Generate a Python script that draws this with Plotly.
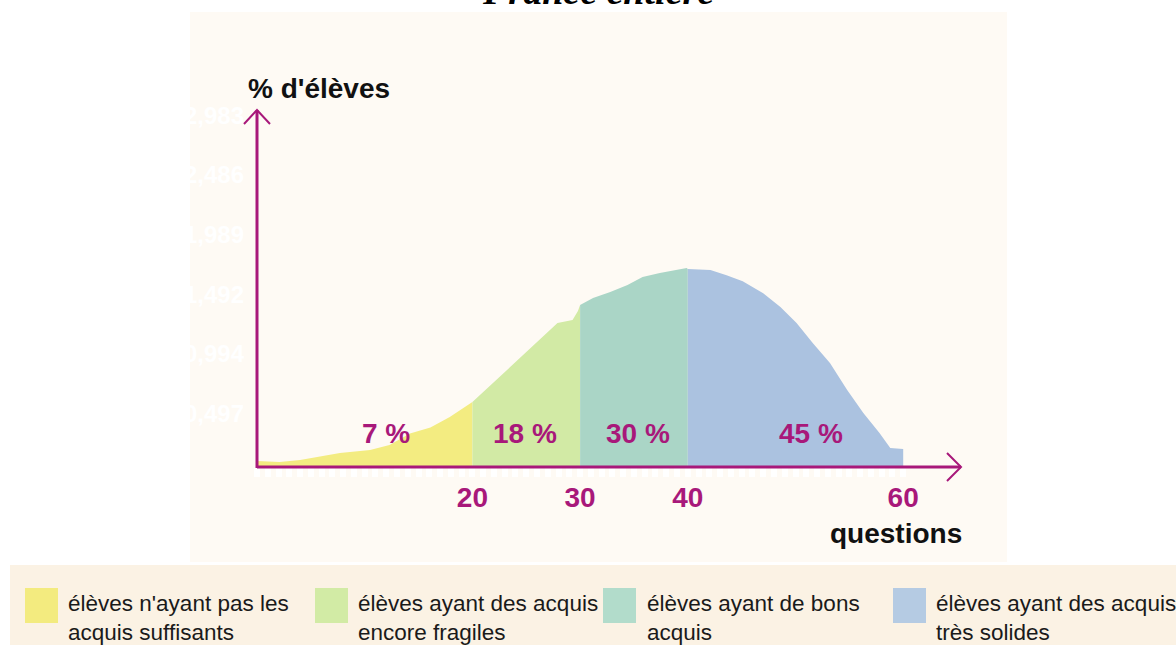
import plotly.graph_objects as go

# ---------------- data ----------------
questions = [0, 2.1, 4.0, 7.7, 10.5, 12.3, 14.2, 16.1, 17.9, 19.8,
             20, 21.9, 23.5, 25.1, 26.6, 27.9, 29.3, 29.8,
             30, 31.2, 32.8, 34.4, 35.8, 37.4, 39.9,
             40, 42.1, 43.6, 45.1, 47.0, 48.6, 50.1, 51.6, 53.2, 54.8, 56.3, 57.8, 58.8, 60]
pct_eleves = [0.05, 0.042, 0.058, 0.117, 0.142, 0.183, 0.28, 0.33, 0.417, 0.534,
              0.542, 0.70, 0.826, 0.959, 1.084, 1.20, 1.226, 1.30,
              1.351, 1.41, 1.46, 1.518, 1.585, 1.618, 1.66,
              1.651, 1.643, 1.60, 1.55, 1.45, 1.334, 1.20, 1.034, 0.867, 0.642, 0.45, 0.284, 0.158, 0.15]

bounds = [0, 20, 30, 40, 60]
group_pct = ["7 %", "18 %", "30 %", "45 %"]
group_names = ["élèves n'ayant pas les<br>acquis suffisants",
               "élèves ayant des acquis<br>encore fragiles",
               "élèves ayant de bons<br>acquis",
               "élèves ayant des acquis<br>très solides"]
x_tick_vals = [20, 30, 40, 60]
x_tick_text = ["20", "30", "40", "60"]
y_tick_vals = [0.497, 0.994, 1.492, 1.989, 2.486, 2.983]
y_tick_text = ["0,497", "0,994", "1,492", "1,989", "2,486", "2,983"]

# ---------------- styles ----------------
fill_colors = ["#f3ec81", "#d2eaa5", "#aad5c6", "#abc2e0"]
legend_colors = ["#f3eb7f", "#d2eba5", "#b2dccb", "#b5cbe3"]
MAG = "#a8187a"
W, H = 1176, 645
X0_PX, XAX_PX, TOP_PX = 257, 467, 108   # px of x=0, y=0, top of plot
RIGHT_PX = 962
XMAX = 65.46
YMAX = 2.994
L = X0_PX
T = TOP_PX
R = W - RIGHT_PX
B = H - XAX_PX

def px2p(px):
    return (px - L) / (W - L - R)

def py2p(py):
    return (H - B - py) / (H - T - B)

fig = go.Figure()

for i in range(4):
    lo, hi = bounds[i], bounds[i + 1]
    xs = [q for q in questions if lo <= q <= hi]
    ys = [v for q, v in zip(questions, pct_eleves) if lo <= q <= hi]
    fig.add_trace(go.Scatter(x=xs, y=ys, mode="lines", fill="tozeroy",
                             fillcolor=fill_colors[i], line=dict(width=0, color=fill_colors[i]),
                             hoverinfo="skip", showlegend=False))

shapes = []
# cream panel
shapes.append(dict(type="rect", xref="paper", yref="paper", layer="below",
                   x0=px2p(190), x1=px2p(1007), y0=py2p(562), y1=py2p(12),
                   fillcolor="#fefaf4", line=dict(width=0)))
# legend band
shapes.append(dict(type="rect", xref="paper", yref="paper", layer="below",
                   x0=px2p(10), x1=px2p(1180), y0=py2p(650), y1=py2p(565),
                   fillcolor="#fbf2e4", line=dict(width=0)))
# axes
shapes.append(dict(type="line", xref="paper", yref="paper",
                   x0=0, x1=px2p(961), y0=py2p(467), y1=py2p(467),
                   line=dict(color=MAG, width=3)))
shapes.append(dict(type="line", xref="paper", yref="paper",
                   x0=0, x1=0, y0=py2p(468), y1=py2p(110),
                   line=dict(color=MAG, width=3)))
# arrow heads
shapes.append(dict(type="path", xref="paper", yref="paper",
                   path=f"M {px2p(947)} {py2p(453)} L {px2p(961)} {py2p(467)} L {px2p(947)} {py2p(481)}",
                   line=dict(color=MAG, width=2)))
shapes.append(dict(type="path", xref="paper", yref="paper",
                   path=f"M {px2p(244)} {py2p(124)} L {px2p(257)} {py2p(110)} L {px2p(270)} {py2p(124)}",
                   line=dict(color=MAG, width=2)))

# legend swatches
sw_x = [25, 315, 603, 893]
for i in range(4):
    shapes.append(dict(type="rect", xref="paper", yref="paper",
                       x0=px2p(sw_x[i]), x1=px2p(sw_x[i] + 33), y0=py2p(623), y1=py2p(588),
                       fillcolor=legend_colors[i], line=dict(width=0)))

annotations = []
annotations.append(dict(xref="paper", yref="paper", x=px2p(598), y=py2p(-9),
                        text="<b><i>France entière</i></b>", showarrow=False,
                        xanchor="center", yanchor="middle",
                        font=dict(family="Liberation Serif", size=38, color="#000000")))
annotations.append(dict(xref="paper", yref="paper", x=px2p(246), y=py2p(89),
                        text="<b>% d'élèves</b>", showarrow=False,
                        xanchor="left", yanchor="middle",
                        font=dict(family="Liberation Sans", size=28, color="#111111")))
annotations.append(dict(xref="paper", yref="paper", x=px2p(964), y=py2p(533),
                        text="<b>questions</b>", showarrow=False,
                        xanchor="right", yanchor="middle",
                        font=dict(family="Liberation Sans", size=28, color="#111111")))
pct_x = [12.0, 24.9, 35.4, 51.4]
for i in range(4):
    annotations.append(dict(xref="x", yref="paper", x=pct_x[i], y=py2p(433),
                            text=f"<b>{group_pct[i]}</b>", showarrow=False,
                            xanchor="center", yanchor="middle",
                            font=dict(family="Liberation Sans", size=28, color=MAG)))
txt_x = [66, 356, 645, 934]
for i in range(4):
    annotations.append(dict(xref="paper", yref="paper", x=px2p(txt_x[i]), y=py2p(618),
                            text=group_names[i], showarrow=False, align="left",
                            xanchor="left", yanchor="middle",
                            font=dict(family="Liberation Sans", size=22.5, color="#1a1a1a")))

fig.update_layout(
    width=W, height=H,
    margin=dict(l=L, r=R, t=T, b=B, pad=0),
    paper_bgcolor="#ffffff", plot_bgcolor="rgba(0,0,0,0)",
    showlegend=False,
    shapes=shapes, annotations=annotations,
    xaxis=dict(range=[0, XMAX], showgrid=False, zeroline=False, showline=False,
               tickmode="array", tickvals=x_tick_vals, ticktext=[f"<b>{t}</b>" for t in x_tick_text],
               ticks="", ticklabelstandoff=11,
               tickfont=dict(family="Liberation Sans", size=28, color=MAG),
               minor=dict(ticks="outside", tickmode="array", tickvals=list(range(0, 61)),
                          ticklen=9, tickwidth=6, tickcolor="#ffffff")),
    yaxis=dict(range=[0, YMAX], showgrid=False, zeroline=False, showline=False,
               tickmode="array", tickvals=y_tick_vals, ticktext=[f"<b>{t}</b>" for t in y_tick_text],
               ticks="", ticklabelstandoff=12, ticklabelshift=6,
               tickfont=dict(family="Liberation Sans", size=24, color="#ffffff")),
)

fig.write_html("out.html", config={"displayModeBar": False},
               post_script="document.body.style.margin='0';document.body.style.overflow='hidden';")
